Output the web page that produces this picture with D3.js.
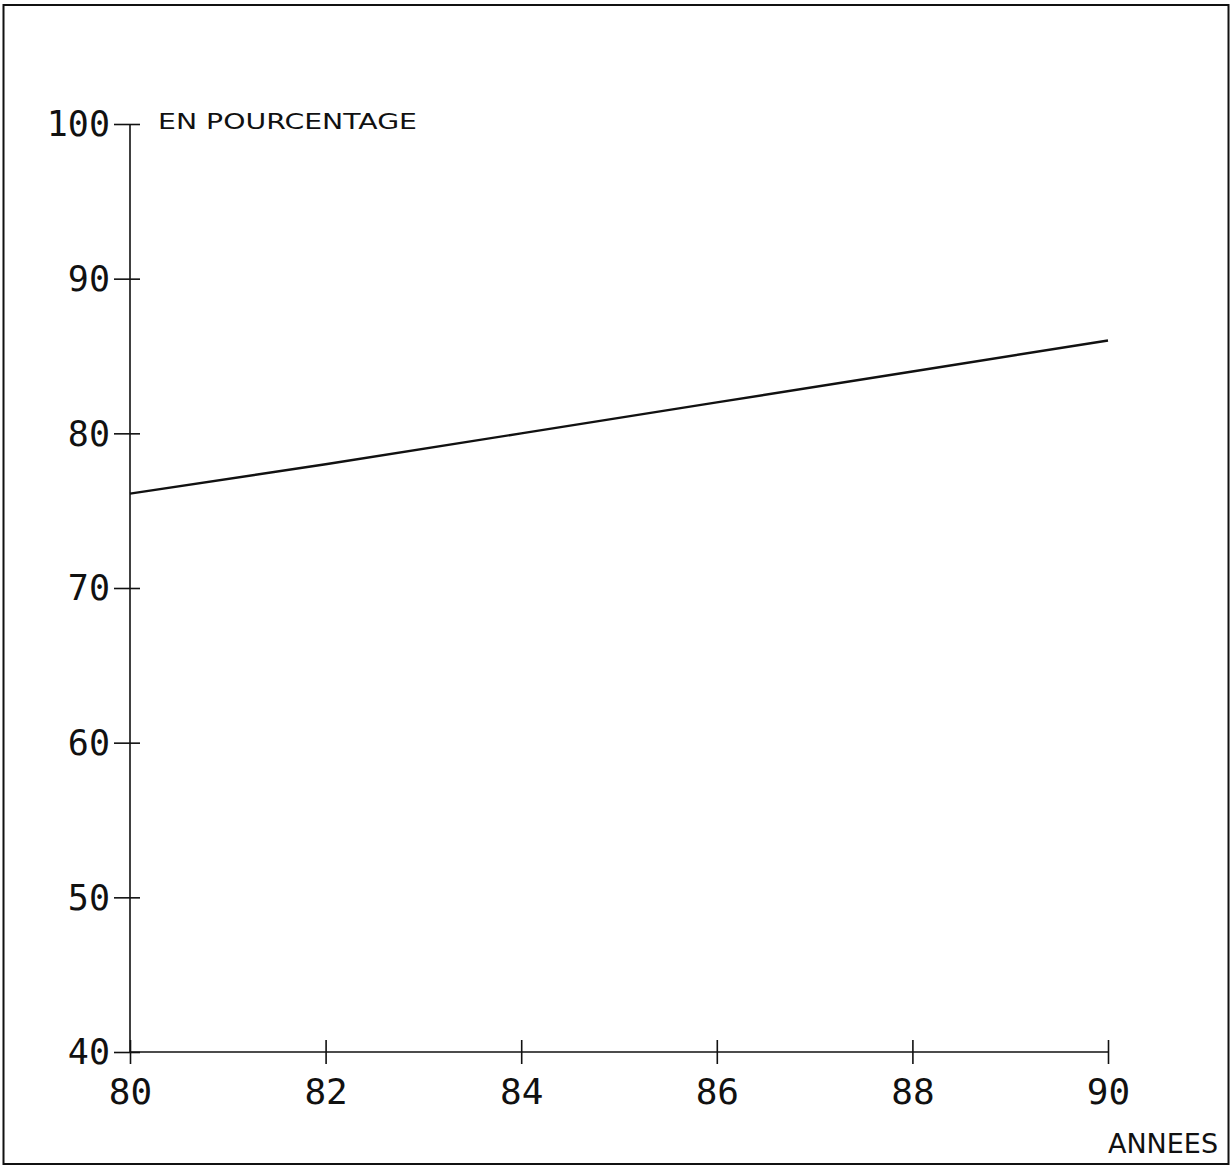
<!DOCTYPE html>
<html>
<head>
<meta charset="utf-8">
<script src="https://cdn.jsdelivr.net/npm/d3@7"></script>
<style>
  html, body { margin: 0; padding: 0; background: #fff; }
  svg { display: block; }
</style>
</head>
<body>
<svg id="chart" width="1232" height="1166"></svg>
<script>
// Data
const years = [80, 82, 84, 86, 88, 90];
const values = [76.1, 78.0, 80.0, 82.0, 84.0, 86.0];
const xTicks = [80, 82, 84, 86, 88, 90];
const yTicks = [40, 50, 60, 70, 80, 90, 100];
const yTitle = "EN POURCENTAGE";
const xTitle = "ANNEES";

const svg = d3.select("#chart");
const W = 1232, H = 1166;
const numFont = "'DejaVu Sans Mono', 'Liberation Mono', monospace";

// frame
svg.append("rect")
  .attr("x", 3.5).attr("y", 5).attr("width", W - 7).attr("height", H - 7)
  .attr("fill", "none").attr("stroke", "#111").attr("stroke-width", 2);

const x = d3.scaleLinear().domain([80, 90]).range([130, 1108]);
const y = d3.scaleLinear().domain([40, 100]).range([1052, 124]);

// y axis
const gy = svg.append("g").attr("transform", `translate(${x(80)},0)`)
  .call(d3.axisLeft(y).tickValues(yTicks).tickSize(0).tickPadding(0).tickFormat(d3.format("d")));
gy.select(".domain").remove();
gy.selectAll(".tick text").remove();
svg.append("line")
  .attr("x1", x(80)).attr("x2", x(80)).attr("y1", y(40)).attr("y2", y(100))
  .attr("stroke", "#111").attr("stroke-width", 1.6);
gy.selectAll(".tick").append("line")
  .attr("x1", -16).attr("x2", 10).attr("y1", 0).attr("y2", 0)
  .attr("stroke", "#111").attr("stroke-width", 1.6);
gy.selectAll(".tick").append("text")
  .attr("x", -20).attr("y", 0).attr("dy", "0.34em")
  .attr("text-anchor", "end")
  .attr("fill", "#111")
  .style("font-family", numFont).style("font-size", "35px")
  .text(d => d);

// x axis
const gx = svg.append("g").attr("transform", `translate(0,${y(40)})`)
  .call(d3.axisBottom(x).tickValues(xTicks).tickSize(0).tickFormat(d3.format("d")));
gx.select(".domain").remove();
gx.selectAll(".tick text").remove();
svg.append("line")
  .attr("x1", x(80)).attr("x2", x(90)).attr("y1", y(40)).attr("y2", y(40))
  .attr("stroke", "#111").attr("stroke-width", 1.6);
gx.selectAll(".tick").append("line")
  .attr("x1", 0).attr("x2", 0).attr("y1", -12).attr("y2", 12)
  .attr("stroke", "#111").attr("stroke-width", 1.6);
gx.selectAll(".tick").append("text")
  .attr("x", 0).attr("y", 52)
  .attr("text-anchor", "middle")
  .attr("fill", "#111")
  .style("font-family", numFont).style("font-size", "36px")
  .text(d => d);

// titles
svg.append("text")
  .attr("x", 158).attr("y", 129)
  .attr("textLength", 259).attr("lengthAdjust", "spacingAndGlyphs")
  .attr("fill", "#111")
  .style("font-family", "'DejaVu Sans', sans-serif").style("font-size", "21px")
  .text(yTitle);

svg.append("text")
  .attr("x", 1108).attr("y", 1153)
  .attr("textLength", 110).attr("lengthAdjust", "spacingAndGlyphs")
  .attr("fill", "#111")
  .style("font-family", "'DejaVu Sans', sans-serif").style("font-size", "27px")
  .text(xTitle);

// line
const data = years.map((yr, i) => ({ yr, v: values[i] }));
svg.append("path")
  .datum(data)
  .attr("fill", "none")
  .attr("stroke", "#111")
  .attr("stroke-width", 2.4)
  .attr("stroke-linejoin", "round")
  .attr("d", d3.line().x(d => x(d.yr)).y(d => y(d.v)));
</script>
</body>
</html>
